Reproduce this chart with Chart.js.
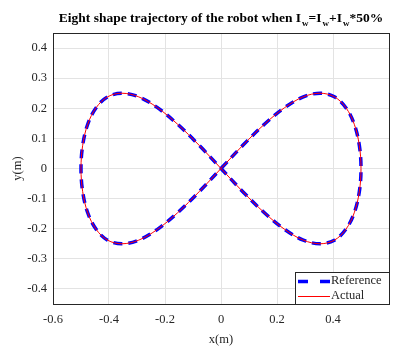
<!DOCTYPE html>
<html>
<head>
<meta charset="utf-8">
<script src="https://cdn.jsdelivr.net/npm/chart.js@4.4.0/dist/chart.umd.min.js"></script>
<style>
  html, body { margin: 0; padding: 0; background: #fff; }
  #wrap { width: 400px; height: 347px; }
</style>
</head>
<body>
<div id="wrap"><canvas id="c"></canvas></div>
<script>
// points (reference trajectory)
const refX = [0, 0.078, 0.155, 0.227, 0.294, 0.354, 0.405, 0.446, 0.476, 0.494, 0.5,
  0.494, 0.476, 0.446, 0.405, 0.354, 0.294, 0.227, 0.155, 0.078, 0,
  -0.078, -0.155, -0.227, -0.294, -0.354, -0.405, -0.446, -0.476, -0.494, -0.5,
  -0.494, -0.476, -0.446, -0.405, -0.354, -0.294, -0.227, -0.155, -0.078, 0];
const refY = [0, 0.077, 0.147, 0.202, 0.238, 0.25, 0.238, 0.202, 0.147, 0.077, 0,
  -0.077, -0.147, -0.202, -0.238, -0.25, -0.238, -0.202, -0.147, -0.077, 0,
  0.077, 0.147, 0.202, 0.238, 0.25, 0.238, 0.202, 0.147, 0.077, 0,
  -0.077, -0.147, -0.202, -0.238, -0.25, -0.238, -0.202, -0.147, -0.077, 0];

// actual trajectory (overlaps the reference almost exactly)
const actX = [0, 0.078, 0.155, 0.227, 0.294, 0.354, 0.405, 0.446, 0.476, 0.494, 0.5,
  0.494, 0.476, 0.446, 0.405, 0.354, 0.294, 0.227, 0.155, 0.078, 0,
  -0.078, -0.155, -0.227, -0.294, -0.354, -0.405, -0.446, -0.476, -0.494, -0.5,
  -0.494, -0.476, -0.446, -0.405, -0.354, -0.294, -0.227, -0.155, -0.078, 0];
const actY = [0, 0.077, 0.147, 0.202, 0.238, 0.25, 0.238, 0.202, 0.147, 0.077, 0,
  -0.077, -0.147, -0.202, -0.238, -0.25, -0.238, -0.202, -0.147, -0.077, 0,
  0.077, 0.147, 0.202, 0.238, 0.25, 0.238, 0.202, 0.147, 0.077, 0,
  -0.077, -0.147, -0.202, -0.238, -0.25, -0.238, -0.202, -0.147, -0.077, 0];

const seriesNames = ['Reference', 'Actual'];
const xTicks = [-0.6, -0.4, -0.2, 0, 0.2, 0.4];
const yTicks = [-0.4, -0.3, -0.2, -0.1, 0, 0.1, 0.2, 0.3, 0.4];

const serif = '"Liberation Serif", "Times New Roman", serif';
const textColor = '#262626';

const toPoints = (xs, ys) => xs.map((x, i) => ({ x: x, y: ys[i] }));

// title with subscripts + frame + legend box
const decorPlugin = {
    id: 'decor',
    afterDraw(chart) {
        const ctx = chart.ctx;
        const area = chart.chartArea;
        ctx.save();

        // frame around the plot area
        ctx.strokeStyle = '#262626';
        ctx.lineWidth = 1;
        ctx.strokeRect(Math.round(area.left) + 0.5, Math.round(area.top) + 0.5,
            Math.round(area.right - area.left), Math.round(area.bottom - area.top));

        // title: I_w = I_w + I_w*50%
        const parts = [
            ['Eight shape trajectory of the robot when I', false],
            ['w', true], ['=I', false], ['w', true], ['+I', false], ['w', true], ['*50%', false]
        ];
        const big = 'bold 13.5px ' + serif;
        const small = 'bold 9px ' + serif;
        let total = 0;
        parts.forEach(p => {
            ctx.font = p[1] ? small : big;
            total += ctx.measureText(p[0]).width + (p[1] ? 1 : 0);
        });
        let x = (area.left + area.right) / 2 - total / 2;
        ctx.fillStyle = '#000';
        ctx.textBaseline = 'alphabetic';
        ctx.textAlign = 'left';
        parts.forEach(p => {
            ctx.font = p[1] ? small : big;
            if (p[1]) x += 1;
            ctx.fillText(p[0], x, p[1] ? 26 : 22);
            x += ctx.measureText(p[0]).width;
        });

        // legend box, bottom right inside the axes
        const lw = 94, lh = 32;
        const lx = Math.round(area.right) - lw, ly = Math.round(area.bottom) - lh;
        ctx.fillStyle = '#fff';
        ctx.fillRect(lx, ly, lw, lh);
        ctx.strokeStyle = '#262626';
        ctx.strokeRect(lx + 0.5, ly + 0.5, lw, lh);

        ctx.lineWidth = 3.5;
        ctx.strokeStyle = '#0000ff';
        ctx.setLineDash([10, 12]);
        ctx.beginPath();
        ctx.moveTo(lx + 3, ly + 9.5);
        ctx.lineTo(lx + 35, ly + 9.5);
        ctx.stroke();
        ctx.setLineDash([]);
        ctx.lineWidth = 1;
        ctx.strokeStyle = '#ff0000';
        ctx.beginPath();
        ctx.moveTo(lx + 3, ly + 24.5);
        ctx.lineTo(lx + 35, ly + 24.5);
        ctx.stroke();

        ctx.font = '12.5px ' + serif;
        ctx.fillStyle = textColor;
        ctx.textBaseline = 'middle';
        ctx.fillText(seriesNames[0], lx + 36, ly + 9);
        ctx.fillText(seriesNames[1], lx + 36, ly + 24);
        ctx.restore();
    }
};

new Chart(document.getElementById('c'), {
    type: 'scatter',
    data: {
        datasets: [{
            label: seriesNames[0],
            data: toPoints(refX, refY),
            showLine: true,
            borderColor: '#0000ff',
            borderWidth: 3.5,
            borderDash: [9, 6],
            pointRadius: 0,
            tension: 0.35,
            order: 2
        }, {
            label: seriesNames[1],
            data: toPoints(actX, actY),
            showLine: true,
            borderColor: '#ff0000',
            borderWidth: 1,
            pointRadius: 0,
            tension: 0.35,
            order: 1
        }]
    },
    options: {
        responsive: true,
        maintainAspectRatio: false,
        animation: false,
        layout: { padding: { top: 33, right: 11, left: 0, bottom: 0 } },
        plugins: {
            legend: { display: false },
            tooltip: { enabled: false }
        },
        scales: {
            x: {
                type: 'linear',
                min: -0.6,
                max: 0.6,
                afterBuildTicks: (scale) => { scale.ticks = xTicks.map(v => ({ value: v })); },
                afterFit: (scale) => { scale.height = 43; },
                grid: { color: '#e3e3e3', drawTicks: false },
                border: { display: false },
                ticks: {
                    padding: 8,
                    color: textColor,
                    font: { family: serif, size: 12.5 },
                    callback: (v) => String(Math.round(v * 10) / 10)
                },
                title: {
                    display: true,
                    text: 'x(m)',
                    color: textColor,
                    font: { family: serif, size: 12.5 },
                    padding: { top: 2, bottom: 0 }
                }
            },
            y: {
                type: 'linear',
                min: -0.45,
                max: 0.45,
                afterBuildTicks: (scale) => { scale.ticks = yTicks.map(v => ({ value: v })); },
                afterFit: (scale) => { scale.width = 53; },
                grid: { color: '#e3e3e3', drawTicks: false },
                border: { display: false },
                ticks: {
                    padding: 6,
                    color: textColor,
                    font: { family: serif, size: 12.5 },
                    callback: (v) => String(Math.round(v * 10) / 10)
                },
                title: {
                    display: true,
                    text: 'y(m)',
                    color: textColor,
                    font: { family: serif, size: 12.5 },
                    padding: { top: 10, bottom: 0 }
                }
            }
        }
    },
    plugins: [decorPlugin]
});
</script>
</body>
</html>
